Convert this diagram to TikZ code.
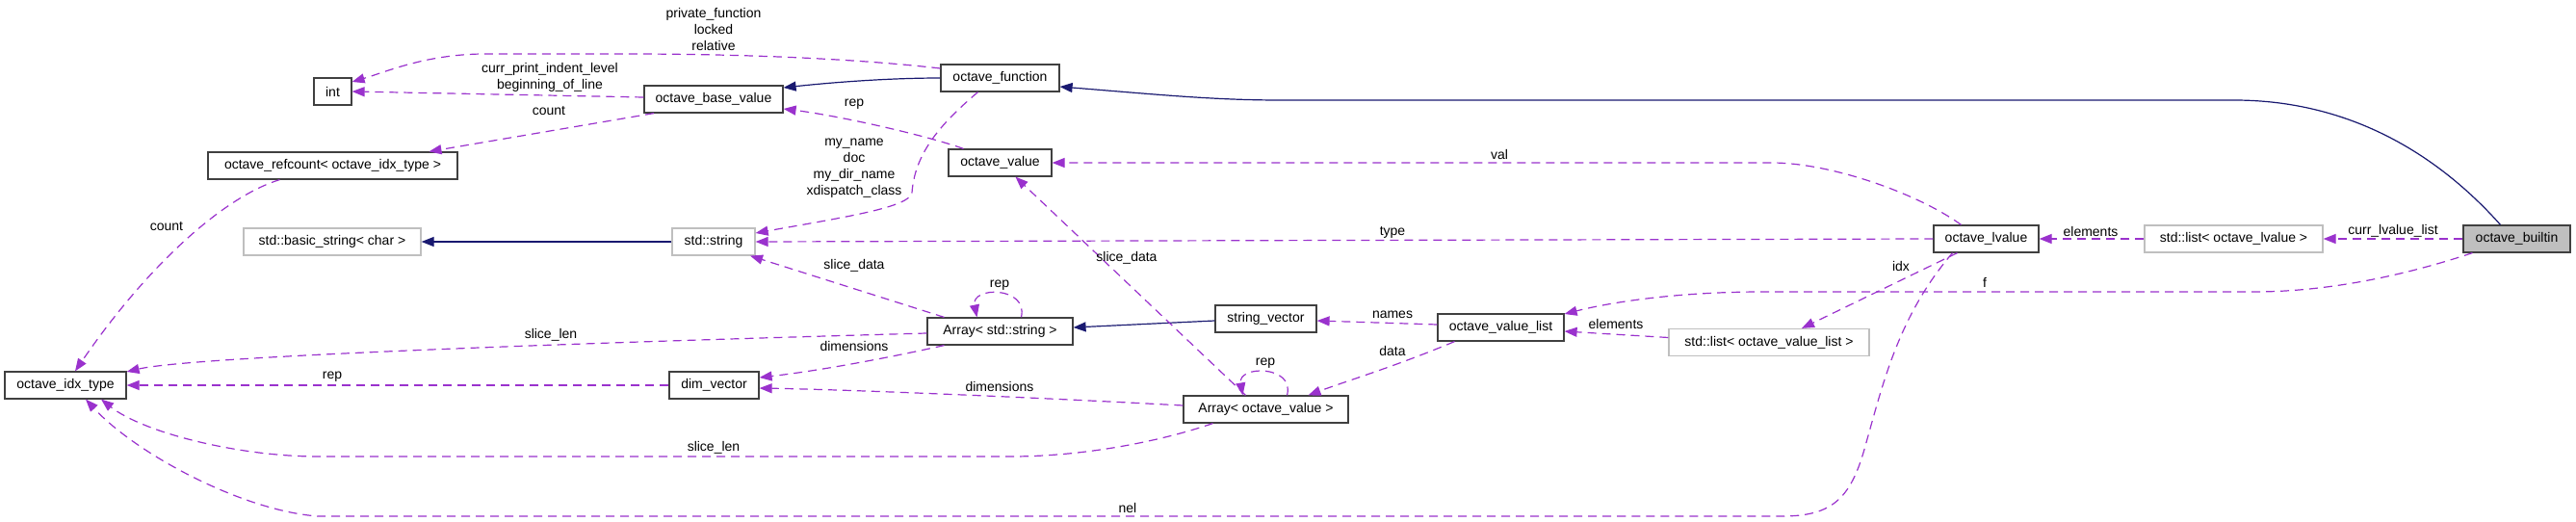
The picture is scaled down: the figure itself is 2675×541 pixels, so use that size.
\documentclass[tikz,border=0pt]{standalone}
\usepackage{fontspec}
\setmainfont{Liberation Sans}
\usetikzlibrary{arrows.meta}
\definecolor{navy}{RGB}{25,25,112}
\definecolor{purp}{RGB}{154,50,205}
\definecolor{bord}{RGB}{64,64,64}
\definecolor{gbord}{RGB}{191,191,191}
\begin{document}
\begin{tikzpicture}[x=1pt,y=-1pt,
 box/.style={draw=bord, line width=1.2pt, fill=white, minimum height=28pt, inner sep=0pt, font=\fontsize{14}{17}\selectfont},
 gbox/.style={box, draw=gbord},
 inh/.style={draw=navy, line width=1.2pt, -{Triangle[length=13pt,width=10pt]}},
 use/.style={draw=purp, line width=1.2pt, dash pattern=on 9pt off 6pt, -{Triangle[length=13pt,width=10pt]}},
 lbl/.style={font=\fontsize{14}{17}\selectfont, inner sep=0pt, align=center},
]
\useasboundingbox (0,0) rectangle (2675,541);
% nodes
\node[box, minimum width=39pt] (int) at (345.5,95) {int};
\node[box, minimum width=259pt] (refc) at (345.5,172) {octave\_refcount< octave\_idx\_type >};
\node[gbox, minimum width=184pt] (basic) at (345,251) {std::basic\_string< char >};
\node[box, minimum width=126pt] (idx) at (68,400) {octave\_idx\_type};
\node[box, minimum width=144pt] (obase) at (741,103) {octave\_base\_value};
\node[box, minimum width=123pt] (ofunc) at (1038.5,81) {octave\_function};
\node[box, minimum width=107pt] (ovalue) at (1038.5,169) {octave\_value};
\node[gbox, minimum width=86pt] (stdstr) at (741,251) {std::string};
\node[box, minimum width=151pt] (arrstr) at (1038.5,344) {Array< std::string >};
\node[box, minimum width=93pt] (dimvec) at (741.5,400) {dim\_vector};
\node[box, minimum width=105pt] (strvec) at (1314.5,331) {string\_vector};
\node[box, minimum width=171pt] (arrov) at (1314.5,425) {Array< octave\_value >};
\node[box, minimum width=131pt] (ovl) at (1558.5,340) {octave\_value\_list};
\node[gbox, minimum width=208pt] (lovl) at (1837,355.5) {std::list< octave\_value\_list >};
\node[box, minimum width=109pt] (olv) at (2062.5,248) {octave\_lvalue};
\node[gbox, minimum width=185pt] (lolv) at (2319.5,248) {std::list< octave\_lvalue >};
\node[box, fill=gbord, minimum width=111pt] (obuiltin) at (2613.5,248) {octave\_builtin};
% inheritance
\draw[inh] (ofunc.west) .. controls (920,81) and (860,86) .. ([yshift=12pt]obase.east);
\draw[inh] ([xshift=-17pt]obuiltin.north) .. controls (2540,170) and (2450,104) .. (2320,104) -- (1330,104) .. controls (1260,104) and (1200,98) .. ([yshift=-9pt]ofunc.east);
\draw[inh] (stdstr.west) -- (basic.east);
\draw[inh] ([yshift=-2pt]strvec.west) -- ([yshift=4pt]arrstr.east);
% usage
\draw[use] ([yshift=10pt]ofunc.west) .. controls (880,60) and (760,56) .. (650,56) -- (500,56) .. controls (440,57) and (400,75) .. ([yshift=10pt]int.east);
\node[lbl] (lpf) at (741,30) {private\_function\\locked\\relative};
\draw[use] ([yshift=2pt]obase.west) -- (int.east);
\node[lbl] (lcp) at (571,80) {curr\_print\_indent\_level\\beginning\_of\_line};
\draw[use] ([xshift=-62pt]obase.south) -- ([xshift=100pt]refc.north);
\node[lbl] (lc1) at (570,115) {count};
\draw[use] ([xshift=-55pt]refc.south) .. controls (230,205) and (150,280) .. ([xshift=10pt]idx.north);
\node[lbl] (lc2) at (173,235) {count};
\draw[use] ([xshift=-38pt]ovalue.north) .. controls (960,140) and (870,120) .. ([yshift=-10pt]obase.east);
\node[lbl] (lrep1) at (887,108) {rep};
\draw[use] ([xshift=-23pt]ofunc.south) .. controls (975,130) and (950,160) .. (947,200) .. controls (945,215) and (880,225) .. ([yshift=9pt]stdstr.east);
\node[lbl] (lmy) at (887,175) {my\_name\\doc\\my\_dir\_name\\xdispatch\_class};
\draw[use] (olv.west) -- (stdstr.east);
\node[lbl] (ltype) at (1446,241) {type};
\draw[use] ([xshift=-58pt]arrstr.north) -- ([xshift=38pt]stdstr.south);
\node[lbl] (lsd1) at (887,276) {slice\_data};
\draw[use] ([xshift=22pt]arrstr.north) .. controls (1068,297) and (1008,297) .. ([xshift=-24pt]arrstr.north);
\node[lbl] (lrep2) at (1038,296) {rep};
\draw[use] ([yshift=-2pt]arrstr.west) .. controls (600,356) and (200,370) .. ([yshift=14pt]idx.east);
\node[lbl] (lsl1) at (572,348) {slice\_len};
\draw[use] ([xshift=-58pt]arrstr.south) .. controls (920,372) and (850,385) .. ([yshift=8pt]dimvec.east);
\node[lbl] (ldim1) at (887,359) {dimensions};
\draw[use] (dimvec.west) -- (idx.east);
\node[lbl] (lrep3) at (345,391) {rep};
\draw[use] ([yshift=4pt]arrov.west) .. controls (1100,414) and (900,405) .. ([yshift=-3pt]dimvec.east);
\node[lbl] (ldim2) at (1038,401) {dimensions};
\draw[use] ([xshift=-21pt]arrov.north) -- ([xshift=16pt]ovalue.south);
\node[lbl] (lsd2) at (1170,268) {slice\_data};
\draw[use] ([xshift=22pt]arrov.north) .. controls (1345,379) and (1285,379) .. ([xshift=-24pt]arrov.north);
\node[lbl] (lrep4) at (1314,377) {rep};
\draw[use] ([xshift=-55pt]arrov.south) .. controls (1200,460) and (1120,474) .. (1050,474) -- (330,474) .. controls (250,474) and (150,450) .. ([xshift=37pt]idx.south);
\node[lbl] (lsl2) at (741,465) {slice\_len};
\draw[use] ([yshift=3pt]ovl.west) -- ([yshift=-2pt]strvec.east);
\node[lbl] (lnames) at (1446,327) {names};
\draw[use] ([xshift=-48pt]ovl.south) .. controls (1450,380) and (1400,395) .. ([xshift=44pt]arrov.north);
\node[lbl] (ldata) at (1446,364) {data};
\draw[use] ([yshift=5pt]lovl.west) -- ([yshift=-4pt]ovl.east);
\node[lbl] (lel1) at (1678,336) {elements};
\draw[use] ([xshift=-30pt]olv.south) -- ([xshift=34pt]lovl.north);
\node[lbl] (lidx) at (1974,276) {idx};
\draw[use] ([xshift=-26pt]olv.north) .. controls (1990,200) and (1900,169) .. (1840,169) -- (ovalue.east);
\node[lbl] (lval) at (1557,160) {val};
\draw[use] ([xshift=-35pt]olv.south) .. controls (1970,330) and (1955,400) .. (1935,470) .. controls (1920,520) and (1900,536) .. (1850,536) -- (330,536) .. controls (250,530) and (140,470) .. ([xshift=21pt]idx.south);
\node[lbl] (lnel) at (1171,527) {nel};
\draw[use] (lolv.west) -- (olv.east);
\node[lbl] (lel2) at (2171,240) {elements};
\draw[use] (obuiltin.west) -- (lolv.east);
\node[lbl] (lcur) at (2485,240) {curr\_lvalue\_list};
\draw[use] ([xshift=-46pt]obuiltin.south) .. controls (2500,285) and (2420,303) .. (2340,303) -- (1830,303) .. controls (1750,303) and (1680,312) .. ([yshift=14pt]ovl.east);
\node[lbl] (lf) at (2061,293) {f};
\end{tikzpicture}
\end{document}
